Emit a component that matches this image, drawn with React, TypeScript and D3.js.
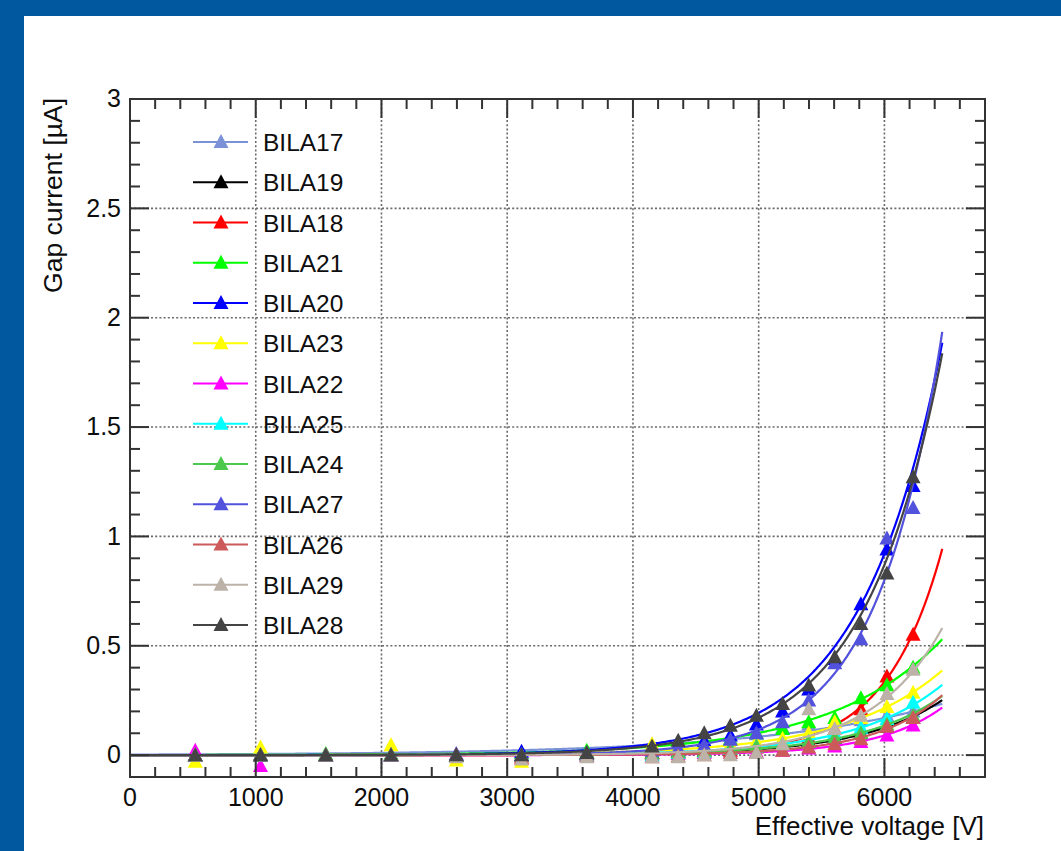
import React from 'react';
import * as d3 from 'd3';

// Effective voltage steps (V), shared by every chamber scan
const voltages = [519, 1038, 1557, 2076, 2595, 3114, 3633, 4152, 4360, 4567, 4775, 4982, 5190, 5398, 5605, 5813, 6020, 6228];

// Chamber names in legend order
const chambers = ['BILA17', 'BILA19', 'BILA18', 'BILA21', 'BILA20', 'BILA23', 'BILA22', 'BILA25', 'BILA24', 'BILA27', 'BILA26', 'BILA29', 'BILA28'];

const chamberColors = ['#7b91d8', '#000000', '#ff0000', '#00ff00', '#0000ff', '#ffff00', '#ff00ff', '#00ffff', '#4cc94c', '#5252dc', '#cc5a5a', '#bcb2a8', '#444444'];

// Gap current (µA) per chamber at each voltage step
const bila17 = [0.0, 0.0, 0.0, 0.0, 0.0, 0.0, 0.005, 0.01, 0.02, 0.04, 0.07, 0.095, 0.125, 0.14, 0.15, 0.16, 0.18, 0.2];
const bila19 = [0.0, 0.0, 0.0, 0.0, 0.0, 0.0, 0.005, 0.01, 0.015, 0.02, 0.03, 0.04, 0.05, 0.065, 0.08, 0.1, 0.13, 0.17];
const bila18 = [0.0, 0.0, 0.0, 0.0, 0.0, -0.015, 0.0, 0.005, 0.01, 0.015, 0.02, 0.035, 0.05, 0.08, 0.12, 0.21, 0.36, 0.55];
const bila21 = [0.0, 0.0, 0.005, 0.005, 0.0, 0.01, 0.02, 0.04, 0.05, 0.06, 0.075, 0.1, 0.12, 0.15, 0.17, 0.26, 0.32, 0.4];
const bila20 = [0.0, 0.0, 0.0, 0.0, 0.0, 0.015, 0.01, 0.03, 0.05, 0.066, 0.09, 0.14, 0.2, 0.3, 0.44, 0.69, 0.94, 1.23];
const bila23 = [-0.03, 0.035, 0.0, 0.045, -0.025, -0.03, 0.01, 0.05, 0.03, 0.04, 0.05, 0.06, 0.075, 0.1, 0.15, 0.17, 0.22, 0.285];
const bila22 = [0.02, -0.05, 0.0, 0.0, 0.0, 0.0, 0.0, 0.0, 0.005, 0.01, 0.01, 0.015, 0.02, 0.03, 0.04, 0.06, 0.09, 0.135];
const bila25 = [0.0, 0.0, 0.0, 0.0, 0.0, 0.0, 0.0, 0.0, 0.01, 0.015, 0.03, 0.04, 0.05, 0.06, 0.1, 0.125, 0.165, 0.24];
const bila24 = [0.0, 0.0, 0.0, 0.0, 0.0, 0.0, 0.01, 0.01, 0.015, 0.02, 0.03, 0.04, 0.05, 0.06, 0.08, 0.1, 0.14, 0.18];
const bila27 = [0.0, 0.0, 0.0, 0.0, 0.005, 0.0, 0.01, 0.02, 0.03, 0.045, 0.07, 0.1, 0.15, 0.25, 0.42, 0.53, 0.99, 1.13];
const bila26 = [0.0, 0.0, 0.0, 0.0, 0.0, -0.01, -0.005, -0.01, -0.005, 0.0, 0.01, 0.01, 0.02, 0.035, 0.05, 0.073, 0.13, 0.17];
const bila29 = [0.0, 0.0, 0.0, 0.0, -0.01, -0.02, -0.01, -0.01, -0.01, 0.0, 0.0, 0.01, 0.05, 0.21, 0.12, 0.18, 0.28, 0.39];
const bila28 = [0.0, 0.0, 0.0, 0.0, 0.0, 0.0, 0.01, 0.04, 0.066, 0.1, 0.134, 0.18, 0.234, 0.318, 0.447, 0.6, 0.83, 1.27];

const currents = [bila17, bila19, bila18, bila21, bila20, bila23, bila22, bila25, bila24, bila27, bila26, bila29, bila28];

// Exponential fit per chamber: I(V) = fitAt6000 * exp(fitSlope * (V - 6000))
const fitAt6000 = [0.17, 0.125, 0.335, 0.315, 0.92, 0.215, 0.09, 0.165, 0.135, 0.8, 0.115, 0.255, 0.87];
const fitSlope = [0.0007, 0.00152, 0.00225, 0.00113, 0.00156, 0.00128, 0.00192, 0.00145, 0.00151, 0.00192, 0.00189, 0.00179, 0.001625];
const fitRange = [0, 6460];

const xMajorTicks = [0, 1000, 2000, 3000, 4000, 5000, 6000];
const yMajorTicks = [0, 0.5, 1, 1.5, 2, 2.5, 3];
const yTickLabels = ['0', '0.5', '1', '1.5', '2', '2.5', '3'];

const W = 1061;
const H = 851;
const frame = { left: 130, right: 985, top: 99, bottom: 777 };
const FONT = '"Liberation Sans", Arial, Helvetica, sans-serif';
const AXIS = '#333333';
const INK = '#0d0d0d';

const x = d3.scaleLinear().domain([0, 6800]).range([frame.left, frame.right]);
const y = d3.scaleLinear().domain([-0.1, 3]).range([frame.bottom, frame.top]);

const triangle = (cx: number, cy: number) =>
  `M${cx},${cy - 8}L${cx + 7.5},${cy + 6}L${cx - 7.5},${cy + 6}Z`;

export default function App() {
  const xMinor = d3.range(0, 6801, 200).filter((v) => v % 1000 !== 0);
  const yMinor = d3
    .range(-1, 31)
    .map((i) => i / 10)
    .filter((v) => Math.abs(v * 2 - Math.round(v * 2)) > 1e-6);

  const fitSamples = d3.range(fitRange[0], fitRange[1] + 1, 10);
  const fitPath = (i: number) =>
    d3
      .line<number>()
      .x((v) => x(v))
      .y((v) => y(fitAt6000[i] * Math.exp(fitSlope[i] * (v - 6000))))(fitSamples) as string;

  const majorLen = 19;
  const minorLen = 10;

  return (
    <svg width={W} height={H} style={{ position: 'absolute', left: 0, top: 0, background: '#ffffff' }}>
      <defs>
        <clipPath id="frame-clip">
          <rect x={frame.left} y={frame.top} width={frame.right - frame.left} height={frame.bottom - frame.top} />
        </clipPath>
      </defs>

      {/* slide border */}
      <rect x={0} y={0} width={W} height={16} fill="#02589e" />
      <rect x={0} y={0} width={24} height={H} fill="#02589e" />

      {/* dotted grid */}
      <g stroke="#6a6a6a" strokeWidth={1.6} strokeDasharray="2,2.2">
        {xMajorTicks.filter((v) => v > 0).map((v) => (
          <line key={`gx${v}`} x1={x(v)} x2={x(v)} y1={frame.top} y2={frame.bottom} />
        ))}
        {yMajorTicks.filter((v) => v < 3).map((v) => (
          <line key={`gy${v}`} x1={frame.left} x2={frame.right} y1={y(v)} y2={y(v)} />
        ))}
      </g>

      {/* chamber scans: markers then fitted curve */}
      <g clipPath="url(#frame-clip)">
        {chambers.map((name, i) => (
          <g key={name}>
            {voltages.map((v, j) => (
              <path key={j} d={triangle(x(v), y(currents[i][j]))} fill={chamberColors[i]} />
            ))}
            <path d={fitPath(i)} fill="none" stroke={chamberColors[i]} strokeWidth={2.2} />
          </g>
        ))}
      </g>

      {/* frame and ticks on all four sides */}
      <g stroke={AXIS} strokeWidth={2}>
        <rect x={frame.left} y={frame.top} width={frame.right - frame.left} height={frame.bottom - frame.top} fill="none" />
        {xMajorTicks.map((v) => (
          <g key={`xt${v}`}>
            <line x1={x(v)} x2={x(v)} y1={frame.bottom} y2={frame.bottom - majorLen} />
            <line x1={x(v)} x2={x(v)} y1={frame.top} y2={frame.top + majorLen} />
          </g>
        ))}
        {xMinor.map((v) => (
          <g key={`xm${v}`}>
            <line x1={x(v)} x2={x(v)} y1={frame.bottom} y2={frame.bottom - minorLen} />
            <line x1={x(v)} x2={x(v)} y1={frame.top} y2={frame.top + minorLen} />
          </g>
        ))}
        {yMajorTicks.map((v) => (
          <g key={`yt${v}`}>
            <line x1={frame.left} x2={frame.left + majorLen} y1={y(v)} y2={y(v)} />
            <line x1={frame.right} x2={frame.right - majorLen} y1={y(v)} y2={y(v)} />
          </g>
        ))}
        {yMinor.map((v) => (
          <g key={`ym${v}`}>
            <line x1={frame.left} x2={frame.left + minorLen} y1={y(v)} y2={y(v)} />
            <line x1={frame.right} x2={frame.right - minorLen} y1={y(v)} y2={y(v)} />
          </g>
        ))}
      </g>

      {/* tick labels */}
      <g fontFamily={FONT} fontSize={25} fill={INK}>
        {xMajorTicks.map((v) => (
          <text key={`xl${v}`} x={x(v)} y={806} textAnchor="middle">
            {d3.format('d')(v)}
          </text>
        ))}
        {yMajorTicks.map((v, i) => (
          <text key={`yl${v}`} x={121} y={y(v)} dy="0.33em" textAnchor="end">
            {yTickLabels[i]}
          </text>
        ))}
      </g>

      {/* axis titles */}
      <text x={984} y={835} textAnchor="end" fontFamily={FONT} fontSize={26} fill={INK}>
        Effective voltage [V]
      </text>
      <text transform="translate(62,98) rotate(-90)" textAnchor="end" fontFamily={FONT} fontSize={26.5} fill={INK}>
        Gap current [µA]
      </text>

      {/* legend */}
      <g>
        {chambers.map((name, i) => {
          const ly = 142 + i * 40.25;
          return (
            <g key={`lg${name}`}>
              <line x1={193} x2={248} y1={ly} y2={ly} stroke={chamberColors[i]} strokeWidth={2.2} />
              <path d={triangle(221, ly)} fill={chamberColors[i]} />
              <text x={263} y={ly + 9} fontFamily={FONT} fontSize={24.5} fill={INK}>
                {name}
              </text>
            </g>
          );
        })}
      </g>
    </svg>
  );
}
